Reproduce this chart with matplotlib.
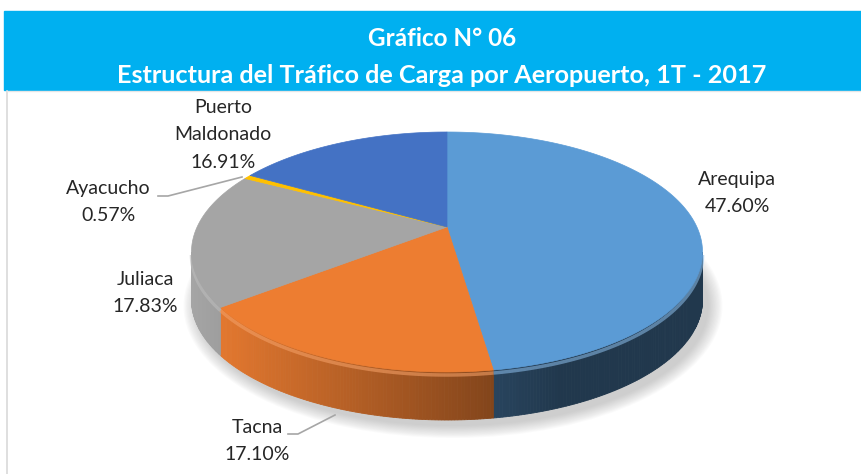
import numpy as np
import matplotlib
matplotlib.use("Agg")
import matplotlib.pyplot as plt
from matplotlib.patches import Polygon, Rectangle, Ellipse
from matplotlib.colors import to_rgb

# data
airports = ['Arequipa', 'Tacna', 'Juliaca', 'Ayacucho', 'Puerto\nMaldonado']
shares = [47.60, 17.10, 17.83, 0.57, 16.91]
colors = ['#5B9BD5', '#ED7D31', '#A5A5A5', '#FFC000', '#4472C4']
side_dark = [0.8, 1.0, 1.0, 1.0, 0.8]

title1 = 'Gráfico N° 06'
title2 = 'Estructura del Tráfico de Carga por Aeropuerto, 1T - 2017'

plt.rcParams['font.family'] = ['Lato', 'DejaVu Sans']

fig = plt.figure(figsize=(8.61, 4.74), dpi=100)
ax = fig.add_axes([0, 0, 1, 1])
ax.set_xlim(0, 861)
ax.set_ylim(474, 0)
ax.axis('off')

# banner
ax.add_patch(Rectangle((4, 11), 857, 79, color='#00B0F0', zorder=1))
ax.text(442, 38, title1, color='white', fontsize=17.5, fontweight='bold',
        ha='center', va='center', zorder=2)
ax.text(442, 75, title2, color='white', fontsize=18.2, fontweight='bold',
        ha='center', va='center', zorder=2)
ax.plot([7, 7], [91, 474], color='#D9D9D9', lw=1.2)
ax.plot([7, 861], [91, 91], color='#E6E6E6', lw=1)

# pie geometry (pixels)
cx, cy = 447, 252
ra, rb = 255.5, 120
c = 25 / 120.0     # apex sits above the ellipse centre
depth = 48


def hit(theta):
    # where a ray from the apex at angle theta meets the rim
    cos_t, sin_t = np.cos(theta), np.sin(theta)
    t = -c * cos_t + np.sqrt(c * c * cos_t * cos_t + 1 - c * c)
    X = t * sin_t
    Y = -c - t * cos_t
    return np.arctan2(Y, X)


def shade(col, f):
    r, g, b = to_rgb(col)
    return (min(r * f, 1), min(g * f, 1), min(b * f, 1))


def lighten(col, k):
    r, g, b = to_rgb(col)
    return (r + (1 - r) * k, g + (1 - g) * k, b + (1 - b) * k)


# soft shadow
for i in range(12):
    k = i / 11
    ax.add_patch(Ellipse((cx + 6, cy + depth + 6), 2 * (ra + 14 - 14 * k), 2 * (rb + 12 - 12 * k),
                         color='#808080', alpha=0.035, lw=0, zorder=2))

fracs = np.array(shares) / np.sum(shares)
bounds = np.concatenate([[0], np.cumsum(fracs)]) * 2 * np.pi
slices = []
for i in range(len(shares)):
    p1 = hit(bounds[i])
    p2 = hit(bounds[i + 1])
    while p2 <= p1:
        p2 += 2 * np.pi
    slices.append((p1, p2))

# side walls (front half only)
for i, (p1, p2) in enumerate(slices):
    for off in [0, 2 * np.pi, -2 * np.pi]:
        lo = max(p1 + off, 0)
        hi = min(p2 + off, np.pi)
        if hi <= lo:
            continue
        ps = np.linspace(lo, hi, max(int((hi - lo) * 80), 2))
        for j in range(len(ps) - 1):
            u = np.cos(0.5 * (ps[j] + ps[j + 1]))
            f = np.clip(0.62 - 0.38 * u, 0.45, 1.0) * side_dark[i]
            col = shade(colors[i], f)
            xs = cx + ra * np.cos(ps[j:j + 2])
            ys = cy + rb * np.sin(ps[j:j + 2])
            quad = [(xs[0], ys[0]), (xs[1], ys[1]), (xs[1], ys[1] + depth), (xs[0], ys[0] + depth)]
            ax.add_patch(Polygon(quad, closed=True, fc=col, ec=col, lw=0.6, zorder=3))
        # bevel highlight on the rim
        arc = np.linspace(lo, hi, 100)
        ax.plot(cx + ra * np.cos(arc), cy + rb * np.sin(arc) + 3,
                color=lighten(colors[i], 0.25), lw=2.5, alpha=0.6, zorder=4,
                solid_capstyle='butt')

# top faces
apex = (cx, cy - c * rb)
for i, (p1, p2) in enumerate(slices):
    ps = np.linspace(p1, p2, 200)
    pts = [apex] + list(zip(cx + ra * np.cos(ps), cy + rb * np.sin(ps)))
    ax.add_patch(Polygon(pts, closed=True, fc=colors[i], ec=colors[i], lw=0.5, zorder=5))

# labels
txt = dict(fontsize=14, color='#262626', ha='center', va='center', linespacing=1.78, zorder=6)
ax.text(737, 193, airports[0] + '\n' + f'{shares[0]:.2f}%', **txt)
ax.text(257, 441, airports[1] + '\n' + f'{shares[1]:.2f}%', **txt)
ax.text(145, 293, airports[2] + '\n' + f'{shares[2]:.2f}%', **txt)
ax.text(108, 202, airports[3] + '\n' + f'{shares[3]:.2f}%', **txt)
ax.text(223, 135, airports[4] + '\n' + f'{shares[4]:.2f}%', **txt)

# leader lines
ax.plot([158, 168, 242], [196, 196, 177], color='#A6A6A6', lw=1.2, zorder=6)
ax.plot([288, 298, 335], [434, 434, 415], color='#A6A6A6', lw=1.2, zorder=6)

fig.savefig('out.png', dpi=100)
